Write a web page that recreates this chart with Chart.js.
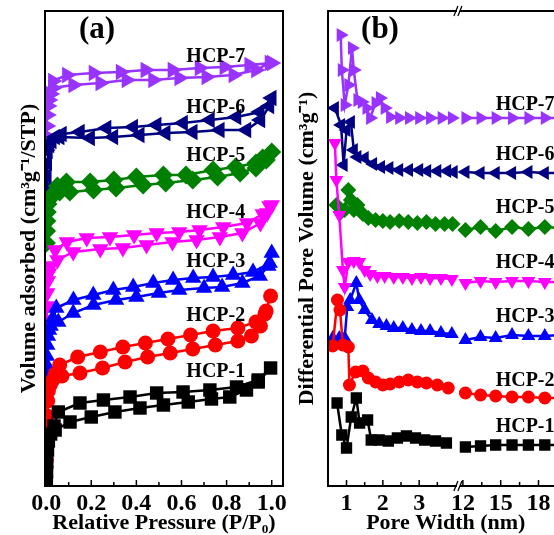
<!DOCTYPE html>
<html><head><meta charset="utf-8">
<script src="https://cdn.jsdelivr.net/npm/chart.js@4.4.1/dist/chart.umd.min.js"></script>
<style>
html,body{margin:0;padding:0;background:#fff;overflow:hidden;width:554px;height:535px;}
#ca{position:absolute;left:0;top:0;}
#cb{position:absolute;left:290px;top:0;}
</style></head><body>
<canvas id="ca" width="300" height="537"></canvas>
<canvas id="cb" width="300" height="537"></canvas>
<script>
// ---------- shared ----------
const names = ['HCP-1','HCP-2','HCP-3','HCP-4','HCP-5','HCP-6','HCP-7'];

// ---------- panel (a): N2 isotherms (relative pressure, volume adsorbed) ----------
const xTicksA = [0, 0.2, 0.4, 0.6, 0.8, 1.0];
const xMinorA = [0.1, 0.3, 0.5, 0.7, 0.9];

const adsHCP1 = [[0.001,4],[0.002,14],[0.003,24],[0.006,36],[0.01,45],[0.02,52],[0.04,56],[0.106,64],[0.2,69],[0.305,74],[0.416,78],[0.52,81],[0.63,84],[0.733,87],[0.814,89],[0.888,96],[0.94,104],[0.995,118]];
const desHCP1 = [[0.94,106],[0.844,99],[0.726,96],[0.607,94],[0.49,93],[0.372,89],[0.254,86],[0.15,83],[0.054,74],[0.035,60]];
const adsHCP2 = [[0.001,26],[0.002,48],[0.004,70],[0.007,85],[0.01,95],[0.018,101],[0.03,106],[0.07,110],[0.15,113],[0.25,118],[0.35,124],[0.45,129],[0.55,133],[0.65,137],[0.75,141],[0.85,145],[0.91,150],[0.95,160],[0.975,175],[0.995,190]];
const desHCP2 = [[0.97,172],[0.93,164],[0.85,158],[0.74,155],[0.64,151],[0.54,147],[0.44,143],[0.34,139],[0.24,134],[0.14,129],[0.06,121],[0.04,112]];
const adsHCP3 = [[0.001,111],[0.002,121],[0.003,130],[0.005,141],[0.008,150],[0.013,156],[0.02,160],[0.054,164],[0.12,173],[0.21,181],[0.31,186],[0.40,189],[0.50,193],[0.59,196],[0.70,198],[0.78,199],[0.87,203],[0.947,210],[0.985,220],[1.0,233]];
const desHCP3 = [[0.991,223],[0.917,214],[0.829,211],[0.74,209],[0.652,208],[0.563,206],[0.475,203],[0.386,199],[0.298,196],[0.209,191],[0.121,186],[0.045,178],[0.03,168]];
const adsHCP4 = [[0.001,150],[0.002,166],[0.003,180],[0.005,193],[0.008,205],[0.013,213],[0.02,220],[0.05,226],[0.12,234],[0.24,237],[0.34,238],[0.445,241],[0.56,244],[0.667,246],[0.77,249],[0.87,253],[0.95,263],[0.98,273],[1.0,281]];
const desHCP4 = [[0.99,280],[0.96,272],[0.89,263],[0.785,259],[0.68,256],[0.59,254],[0.49,253],[0.39,251],[0.283,249],[0.18,248],[0.092,244],[0.04,236]];
const adsHCP5 = [[0.001,243],[0.002,255],[0.003,265],[0.005,274],[0.008,282],[0.015,287],[0.025,290],[0.06,294],[0.105,294],[0.21,296],[0.31,298],[0.43,301],[0.53,303],[0.65,306],[0.76,309],[0.86,313],[0.93,318],[0.976,326],[1.0,334]];
const desHCP5 = [[0.96,328],[0.93,323],[0.84,319],[0.74,316],[0.62,311],[0.52,311],[0.40,309],[0.30,306],[0.195,304],[0.09,304],[0.05,300],[0.03,292]];
const adsHCP6 = [[0.001,281],[0.002,297],[0.003,310],[0.005,323],[0.008,335],[0.015,341],[0.025,345],[0.06,349],[0.195,348],[0.298,349],[0.415,351],[0.53,353],[0.65,354],[0.77,356],[0.888,356],[0.95,366],[0.99,380],[1.0,388]];
const desHCP6 = [[0.947,374],[0.844,369],[0.726,366],[0.607,363],[0.49,361],[0.386,359],[0.268,358],[0.15,354],[0.07,352],[0.04,349]];
const adsHCP7 = [[0.001,336],[0.002,350],[0.003,360],[0.005,371],[0.008,380],[0.012,386],[0.02,392],[0.03,398],[0.12,401],[0.24,403],[0.356,406],[0.474,406],[0.59,408],[0.71,409],[0.83,411],[0.93,416],[0.99,423],[1.0,423]];
const desHCP7 = [[0.9,421],[0.79,419],[0.68,418],[0.56,416],[0.44,416],[0.33,414],[0.21,413],[0.092,411],[0.03,405]];

const labelAX = 0.752;
const labelAV = [114, 170, 224, 273, 330, 378, 429];

// ---------- panel (b): pore size distribution (pore width nm, dV) ----------
const xTicksB = [1, 2, 3, 12, 15, 18, 21];
const xMinorB = [1.5, 2.5, 3.5, 13.5, 16.5, 19.5];

const psdHCP1 = [[0.74,83],[0.87,51],[1.0,38],[1.13,69],[1.27,88],[1.36,63],[1.58,66],[1.68,46],[1.9,46],[2.15,45],[2.4,48],[2.65,50],[2.9,48],[3.15,46],[3.45,45],[3.75,43],[12.2,39],[13.4,40],[14.6,41],[15.9,41],[17.2,41],[18.5,41],[19.8,41],[21.1,41]];
const psdHCP2 = [[0.62,140],[0.75,186],[0.82,176],[0.9,141],[1.05,139],[1.08,101],[1.25,114],[1.45,115],[1.6,108],[1.8,104],[2.0,101],[2.2,102],[2.45,104],[2.7,106],[2.95,104],[3.2,103],[3.5,101],[3.8,98],[12.2,93],[13.4,91],[14.6,90],[15.9,89],[17.2,89],[18.5,88],[19.8,88],[21.1,88]];
const psdHCP3 = [[0.62,148],[0.8,148],[0.95,148],[1.02,179],[1.1,186],[1.27,203],[1.35,186],[1.5,176],[1.7,166],[1.9,162],[2.1,160],[2.3,158],[2.55,158],[2.8,156],[3.05,155],[3.3,155],[3.6,153],[3.9,152],[12.2,146],[13.4,149],[14.6,148],[15.9,151],[17.2,150],[18.5,150],[19.8,151],[21.1,150]];
const psdHCP4 = [[0.68,343],[0.72,306],[0.8,271],[0.9,216],[0.95,199],[1.05,224],[1.2,225],[1.35,224],[1.5,216],[1.65,212],[1.85,210],[2.05,210],[2.3,209],[2.55,209],[2.8,208],[3.05,209],[3.3,208],[3.6,208],[3.9,207],[12.2,203],[13.4,205],[14.6,204],[15.9,205],[17.2,205],[18.5,204],[19.8,204],[21.1,204]];
const psdHCP5 = [[0.72,281],[0.85,274],[0.95,276],[1.05,296],[1.12,286],[1.2,276],[1.3,281],[1.45,272],[1.6,268],[1.8,266],[2.0,265],[2.2,264],[2.45,265],[2.7,264],[2.95,263],[3.2,264],[3.45,262],[3.7,262],[3.92,262],[12.2,256],[13.4,259],[14.6,255],[15.9,259],[17.2,257],[18.5,259],[19.8,258],[21.1,257]];
const psdHCP6 = [[0.68,378],[0.85,361],[0.92,321],[1.0,356],[1.12,364],[1.2,336],[1.3,329],[1.5,328],[1.73,322],[1.95,319],[2.18,318],[2.45,316],[2.72,316],[3.0,316],[3.22,315],[3.5,315],[3.77,315],[3.95,314],[12.2,314],[13.4,313],[14.6,313],[15.9,313],[17.2,314],[18.5,313],[19.8,313],[21.1,313]];
const psdHCP7 = [[0.84,451],[0.87,416],[0.95,381],[1.05,401],[1.15,438],[1.2,416],[1.3,386],[1.42,384],[1.55,378],[1.65,368],[1.8,383],[1.92,388],[2.05,378],[2.2,369],[2.45,368],[2.72,368],[3.0,368],[3.3,368],[3.62,368],[3.9,368],[12.2,368],[13.4,368],[14.6,368],[15.9,368],[17.2,368],[18.5,368],[19.8,368],[21.1,368]];

const labelBX = 14.6;
const labelBV = [59, 105, 169, 223, 278, 331, 381];

// ---------- styles ----------
const colors = ['#000000','#ff0000','#0000ff','#ff00ff','#008000','#000080','#9933ff'];
const markers = ['rect','circle','triangle','triangle','rectRot','triangle','triangle'];
const rotations = [0,0,0,180,0,-90,90];
const radiiA = [9.5,7.5,9.5,9.5,9.5,9.5,9.5];
const radiiB = [8,6.5,8,8,8,8,8];
const SERIF = '"Liberation Serif","Times New Roman",serif';

// broken x axis for panel (b): 0.5-4 nm linear, then 12+ nm compressed
function bx(w){ return w <= 4.05 ? w : 4.204 + (w - 12) * 0.3469; }

const adsA = [adsHCP1,adsHCP2,adsHCP3,adsHCP4,adsHCP5,adsHCP6,adsHCP7];
const desA = [desHCP1,desHCP2,desHCP3,desHCP4,desHCP5,desHCP6,desHCP7];
const psdB = [psdHCP1,psdHCP2,psdHCP3,psdHCP4,psdHCP5,psdHCP6,psdHCP7];

function styleFor(i, radii){
  return {
    label: names[i], borderColor: colors[i], backgroundColor: colors[i],
    pointBackgroundColor: colors[i], pointBorderColor: colors[i],
    pointStyle: markers[i], pointRotation: rotations[i], pointRadius: radii[i],
    pointBorderWidth: 0, borderWidth: 2.5, showLine: true, tension: 0, spanGaps: false
  };
}

const dsA = names.map((n,i)=>Object.assign(styleFor(i, radiiA), {
  data: adsA[i].concat(desA[i]).map(([x,y])=>({x,y}))
}));
const dsB = names.map((n,i)=>{
  const pts = [];
  let prev = null;
  psdB[i].forEach(([w,v])=>{
    if (prev !== null && prev <= 4.05 && w > 4.05) pts.push({x: 4.1, y: null});
    pts.push({x: bx(w), y: v});
    prev = w;
  });
  return Object.assign(styleFor(i, radiiB), {data: pts});
});

const framePlugin = {
  id: 'frame',
  afterDraw(chart, args, o){
    const ctx = chart.ctx, a = chart.chartArea, xs = chart.scales.x, ys = chart.scales.y;
    ctx.save();
    ctx.strokeStyle = '#000'; ctx.lineWidth = 2;
    ctx.strokeRect(a.left, a.top, a.right - a.left, a.bottom - a.top);
    ctx.lineWidth = 1.5;
    o.majors.forEach(v=>{ const px = xs.getPixelForValue(v); ctx.beginPath(); ctx.moveTo(px, a.bottom); ctx.lineTo(px, a.bottom - 6); ctx.stroke(); });
    o.minors.forEach(v=>{ const px = xs.getPixelForValue(v); ctx.beginPath(); ctx.moveTo(px, a.bottom); ctx.lineTo(px, a.bottom - 4); ctx.stroke(); });
    if (o.breakAt !== undefined){
      const px = xs.getPixelForValue(o.breakAt);
      [a.top, a.bottom].forEach(y=>{
        ctx.fillStyle = '#fff'; ctx.fillRect(px - 2, y - 2, 3, 4);
        ctx.strokeStyle = '#000'; ctx.lineWidth = 1.3;
        [-3, 1].forEach(k=>{ ctx.beginPath(); ctx.moveTo(px + k - 2, y + 5); ctx.lineTo(px + k + 2, y - 5); ctx.stroke(); });
      });
    }
    ctx.fillStyle = '#000';
    ctx.font = 'bold 20px ' + SERIF;
    ctx.textBaseline = 'middle';
    ctx.textAlign = o.labelAlign;
    names.forEach((n,i)=>{ ctx.fillText(n, xs.getPixelForValue(o.labelX), ys.getPixelForValue(o.labelV[i])); });
    ctx.font = 'bold 31px ' + SERIF;
    ctx.textAlign = 'center';
    ctx.fillText(o.panel, a.left + o.panelDx, a.top + 19);
    ctx.restore();
  }
};

function makeOptions(cfg){
  return {
    responsive: false, animation: false, devicePixelRatio: 1,
    layout: {padding: {top: 11, right: cfg.padRight, left: 0, bottom: 0}},
    plugins: {legend: {display: false}, tooltip: {enabled: false}, frame: cfg.frame},
    scales: {
      x: {
        type: 'linear', min: cfg.xmin, max: cfg.xmax,
        grid: {display: false, drawTicks: false}, border: {display: false},
        afterBuildTicks: s => { s.ticks = cfg.ticks.map(v=>({value: cfg.tx(v)})); },
        ticks: {autoSkip: false, maxRotation: 0, padding: 3, color: '#000',
          font: {family: SERIF, size: 24, weight: 'bold'},
          callback: (v, i) => cfg.tickLabel(cfg.ticks[i])},
        title: {display: true, text: cfg.xtitle, color: '#000',
          font: {family: SERIF, size: 22, weight: 'bold'}, padding: {top: 0, bottom: 0}},
        afterFit: s => { s.height = 51; }
      },
      y: {
        type: 'linear', min: 0, max: 475,
        grid: {display: false, drawTicks: false}, border: {display: false},
        ticks: {display: false},
        title: {display: true, text: cfg.ytitle, color: '#000',
          font: {family: SERIF, size: 22, weight: 'bold'}, padding: {top: cfg.yTitlePad, bottom: 0}},
        afterFit: s => { s.width = cfg.yWidth; }
      }
    }
  };
}

new Chart(document.getElementById('ca'), {
  type: 'scatter',
  data: {datasets: dsA},
  options: makeOptions({
    padRight: 17, xmin: -0.005, xmax: 1.05, ticks: xTicksA, tx: v => v,
    tickLabel: v => v.toFixed(1), xtitle: 'Relative Pressure (P/P\u2080)',
    ytitle: 'Volume adsorbed (cm\u00B3g\u207B\u00B9/STP)', yTitlePad: 16, yWidth: 45,
    frame: {majors: xTicksA, minors: xMinorA, labelX: labelAX, labelV: labelAV, labelAlign: 'center', panel: '(a)', panelDx: 52}
  }),
  plugins: [framePlugin]
});

new Chart(document.getElementById('cb'), {
  type: 'scatter',
  data: {datasets: dsB},
  options: makeOptions({
    padRight: 24, xmin: 0.49, xmax: 6.976, ticks: xTicksB, tx: bx,
    tickLabel: v => String(v), xtitle: 'Pore Width (nm)',
    ytitle: 'Differential Pore Volume (cm\u00B3g\u207B\u00B9)', yTitlePad: 4, yWidth: 38,
    frame: {majors: xTicksB.map(bx), minors: xMinorB.map(bx), labelX: bx(labelBX), labelV: labelBV, labelAlign: 'left', panel: '(b)', panelDx: 52, breakAt: (bx(3.95) + bx(12.1)) / 2}
  }),
  plugins: [framePlugin]
});
</script>
</body></html>
